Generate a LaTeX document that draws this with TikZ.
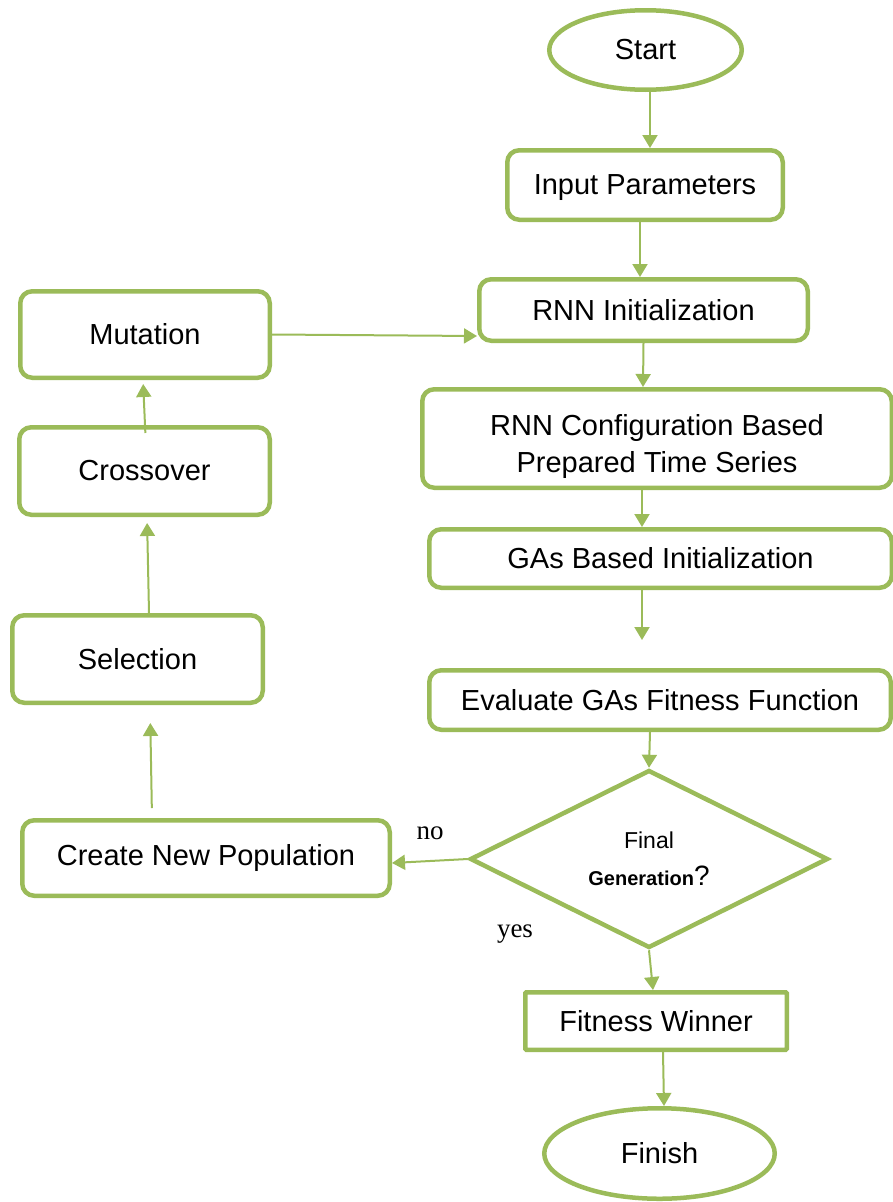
\documentclass[tikz,border=0pt]{standalone}
\usepackage{fontspec}
\setmainfont{Liberation Sans}
\newfontfamily\timesfont{Liberation Serif}
\usetikzlibrary{arrows.meta}
\usetikzlibrary{positioning}
\usetikzlibrary{shapes.geometric}
\definecolor{FlowGreen}{RGB}{155,187,89}
\tikzset{
	box/.style={draw=FlowGreen, line width=4.5pt, rounded corners=12pt, align=center,
		inner sep=2pt, font=\fontsize{29}{37}\selectfont},
	term/.style={ellipse, draw=FlowGreen, line width=4.5pt, inner sep=0pt,
		font=\fontsize{29}{37}\selectfont},
	decide/.style={diamond, draw=FlowGreen, line width=4.5pt, inner sep=0pt, align=center},
	flow/.style={-{Triangle[length=13pt, width=15pt]}, line width=2pt, draw=FlowGreen},
	yn/.style={font=\timesfont\fontsize{27}{30}\selectfont, inner sep=0pt}
}

\begin{document}
\begin{tikzpicture}[x=1pt, y=-1pt]
	\useasboundingbox (0,0) rectangle (893,1202);
	% main column
	\node[term, minimum width=192.5pt, minimum height=79.5pt] (start) at (645.5,50) {Start};
	\node[box, minimum width=275.5pt, minimum height=69.5pt, text depth=0pt] (inp) at (645,185) {Input Parameters};
	\node[box, minimum width=328.5pt, minimum height=61.5pt] (init) at (643.5,310) {RNN Initialization};
	\node[box, minimum width=469.5pt, minimum height=98.5pt, text depth=0pt] (cfg) at (657,438.5) {\rule{0pt}{31pt}RNN Configuration Based\\ Prepared Time Series};
	\node[box, minimum width=462.5pt, minimum height=58.5pt] (gas) at (660.5,558.5) {GAs Based Initialization};
	\node[box, minimum width=461.5pt, minimum height=59.5pt] (eval) at (660,700) {Evaluate GAs Fitness Function};
	\node[decide, minimum width=358pt, minimum height=178pt, text depth=0pt] (dec) at (649,859)
		{{\fontsize{23}{28}\selectfont Final}\\[16pt]{\fontsize{20}{24}\selectfont\bfseries Generation}{\fontsize{28}{30}\selectfont ?}};
	\node[box, rounded corners=1pt, minimum width=261.5pt, minimum height=57.5pt] (win) at (656,1021) {Fitness Winner};
	\node[term, minimum width=230.5pt, minimum height=90.5pt] (fin) at (659.5,1153.5) {Finish};
	% GA loop on the left
	\node[box, minimum width=249.5pt, minimum height=86.5pt] (mut) at (145,334.5) {Mutation};
	\node[box, minimum width=250.5pt, minimum height=87.5pt] (cross) at (144.5,471) {Crossover};
	\node[box, minimum width=250.5pt, minimum height=87.5pt] (sel) at (137.5,659) {Selection};
	\node[box, minimum width=367.5pt, minimum height=75.5pt] (cnp) at (206,858) {Create New Population};
	\node[yn] (no) at (430,833) {no};
	\node[yn] (yes) at (515,934) {yes};
	\draw[flow] ([xshift=4.5]start.south) -- ([xshift=5]inp.north);
	\draw[flow] ([xshift=-5]inp.south) -- ([xshift=-3.5]init.north);
	\draw[flow] (init.south) -- ([xshift=-14]cfg.north);
	\draw[flow] ([xshift=-15]cfg.south) -- ([xshift=-18.5]gas.north);
	\draw[flow, shorten >=28pt] ([xshift=-18.5]gas.south) -- ([xshift=-18]eval.north);
	\draw[flow] ([xshift=-10]eval.south) -- (dec.north);
	\draw[flow] (dec.south) -- ([xshift=-3]win.north);
	\draw[flow] ([xshift=7]win.south) -- ([xshift=4.5]fin.north);
	\draw[flow] (dec.west) -- ([yshift=-5]cnp.east);
	\draw[flow, shorten <=10pt, shorten >=18pt] ([xshift=-54]cnp.north) -- ([xshift=12.5]sel.south);
	\draw[flow, shorten >=6pt] ([xshift=11.5]sel.north) -- ([xshift=2.5]cross.south);
	\draw[flow, shorten <=-8pt, shorten >=4pt] ([xshift=0.5]cross.north) -- ([xshift=-2]mut.south);
	\draw[flow] (mut.east) -- ([yshift=-26]init.west);
\end{tikzpicture}
\end{document}
